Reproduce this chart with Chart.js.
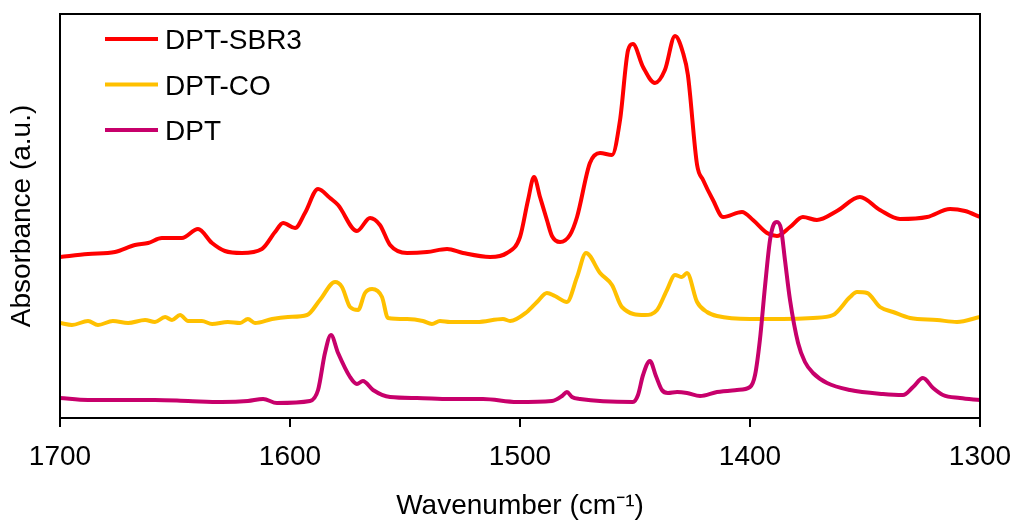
<!DOCTYPE html>
<html>
<head>
<meta charset="utf-8">
<title>FTIR spectra</title>
<script src="https://cdn.jsdelivr.net/npm/chart.js@4"></script>
<style>
  body { margin: 0; background: #fff; }
  #wrap { width: 1016px; height: 524px; }
</style>
</head>
<body>
<div id="wrap"><canvas id="ftirChart"></canvas></div>
<script>
// wavenumbers (cm-1) and absorbance (a.u., stacked with offsets) for each sample
const sbr3Wn = [1700, 1687.8, 1676.1, 1667.4, 1661.7, 1655.7, 1647, 1640, 1633.9, 1628.3, 1620.9, 1612.2, 1606.5, 1603, 1597.8, 1593.5, 1587.8, 1582.6, 1579.1, 1570.9, 1565.2, 1560.9, 1556.5, 1549.1, 1540.4, 1531.7, 1524.8, 1513, 1505.7, 1500, 1496.5, 1493.9, 1491.3, 1488.3, 1486.1, 1482.6, 1478.3, 1475.2, 1469.6, 1465.2, 1460, 1456.5, 1453, 1450.9, 1446.5, 1441.3, 1437, 1432.6, 1429.1, 1427, 1423, 1420.4, 1416.1, 1411.7, 1403.5, 1398.7, 1392.6, 1388.3, 1382.6, 1377, 1370.9, 1362.2, 1352.2, 1343.5, 1334.8, 1323, 1313, 1306.5, 1300];
const sbr3Abs = [1.61, 1.64, 1.66, 1.73, 1.75, 1.80, 1.80, 1.89, 1.75, 1.67, 1.65, 1.69, 1.86, 1.95, 1.90, 2.05, 2.29, 2.20, 2.13, 1.87, 2.00, 1.93, 1.73, 1.65, 1.66, 1.69, 1.65, 1.61, 1.65, 1.81, 2.18, 2.41, 2.21, 1.98, 1.82, 1.76, 1.83, 2.01, 2.55, 2.65, 2.63, 2.98, 3.68, 3.74, 3.51, 3.35, 3.48, 3.82, 3.65, 3.43, 2.53, 2.38, 2.18, 2.01, 2.06, 1.98, 1.85, 1.82, 1.91, 2.01, 1.98, 2.07, 2.21, 2.08, 1.99, 2.01, 2.09, 2.07, 2.01];

const coWn = [1700, 1694.8, 1687.8, 1683.5, 1677, 1670.4, 1663, 1658.7, 1654.3, 1651.3, 1647.8, 1644.3, 1638.3, 1633.9, 1627, 1621.7, 1618.3, 1615.2, 1607.8, 1600.9, 1592.6, 1587, 1580.4, 1577.4, 1573.9, 1570.4, 1567.4, 1564.3, 1560, 1557.4, 1549.1, 1542.2, 1538.3, 1534.8, 1530.4, 1518.7, 1507.4, 1504.3, 1497, 1492.6, 1488.3, 1484.8, 1479.6, 1475.2, 1471.3, 1465.2, 1460, 1455.7, 1445.7, 1440.4, 1436.1, 1432.6, 1429.6, 1427.4, 1423, 1418.7, 1414.3, 1400, 1385.7, 1372.6, 1363.9, 1356.5, 1353.5, 1349.1, 1343.5, 1337.8, 1330.4, 1318.7, 1310, 1300];
const coAbs = [0.95, 0.93, 0.97, 0.93, 0.97, 0.95, 0.98, 0.96, 1.01, 0.98, 1.03, 0.97, 0.97, 0.94, 0.96, 0.95, 0.99, 0.95, 0.99, 1.01, 1.03, 1.18, 1.36, 1.31, 1.11, 1.08, 1.25, 1.29, 1.21, 1.00, 0.99, 0.97, 0.94, 0.97, 0.96, 0.96, 0.99, 0.97, 1.06, 1.16, 1.25, 1.22, 1.16, 1.41, 1.65, 1.45, 1.33, 1.11, 1.03, 1.08, 1.28, 1.43, 1.41, 1.45, 1.16, 1.06, 1.02, 0.99, 0.99, 1.00, 1.03, 1.21, 1.26, 1.25, 1.11, 1.06, 1.00, 0.98, 0.96, 1.01];

const dptWn = [1700, 1687.8, 1673, 1658.7, 1644.3, 1629.6, 1618.3, 1611.7, 1605.7, 1591.3, 1587.8, 1584.8, 1582.2, 1579.1, 1573.9, 1570.9, 1568.3, 1563.9, 1556.5, 1544.8, 1530.4, 1516.1, 1501.3, 1486.1, 1481.7, 1479.6, 1477.4, 1473.9, 1450.9, 1448.7, 1446.5, 1443.5, 1440.9, 1438.3, 1435.7, 1431.7, 1427.4, 1421.7, 1414.3, 1405.7, 1400, 1397.8, 1395.7, 1393.5, 1391.3, 1389.6, 1388.3, 1386.5, 1384.8, 1382.6, 1379.1, 1376.1, 1372.6, 1366.5, 1356.5, 1342.2, 1333.5, 1329.1, 1324.8, 1320.4, 1316.1, 1308.7, 1300];
const dptAbs = [0.20, 0.18, 0.18, 0.18, 0.17, 0.16, 0.17, 0.19, 0.15, 0.17, 0.28, 0.65, 0.83, 0.65, 0.41, 0.34, 0.37, 0.28, 0.21, 0.20, 0.19, 0.19, 0.16, 0.17, 0.22, 0.26, 0.21, 0.19, 0.16, 0.23, 0.43, 0.57, 0.42, 0.28, 0.25, 0.26, 0.25, 0.22, 0.26, 0.28, 0.31, 0.43, 0.78, 1.31, 1.78, 1.94, 1.96, 1.89, 1.58, 1.18, 0.75, 0.56, 0.45, 0.35, 0.28, 0.24, 0.23, 0.31, 0.40, 0.30, 0.23, 0.20, 0.18];

const xTicks = [1700, 1600, 1500, 1400, 1300];

const toPoints = (xs, ys) => xs.map((x, i) => ({ x: x, y: ys[i] }));

const FONT = "'Liberation Sans', Arial, sans-serif";

// box around the plot area
const frame = {
  id: 'frame',
  afterDatasetsDraw(chart) {
    const a = chart.chartArea;
    const ctx = chart.ctx;
    ctx.save();
    ctx.strokeStyle = '#000';
    ctx.lineWidth = 2;
    ctx.strokeRect(a.left, a.top, a.right - a.left, a.bottom - a.top);
    ctx.restore();
  }
};

// legend drawn inside the plot, top left
const insideLegend = {
  id: 'insideLegend',
  afterDraw(chart) {
    const a = chart.chartArea;
    const ctx = chart.ctx;
    ctx.save();
    ctx.font = '28px ' + FONT;
    ctx.fillStyle = '#000';
    ctx.textBaseline = 'alphabetic';
    chart.data.datasets.forEach((ds, i) => {
      const y = a.top + 25 + i * 45.5;
      ctx.strokeStyle = ds.borderColor;
      ctx.lineWidth = 4;
      ctx.beginPath();
      ctx.moveTo(a.left + 45, y);
      ctx.lineTo(a.left + 98, y);
      ctx.stroke();
      ctx.fillText(ds.label, a.left + 105, y + 10);
    });
    ctx.restore();
  }
};

const ctx = document.getElementById('ftirChart').getContext('2d');
const ftirChart = new Chart(ctx, {
  type: 'line',
  data: {
    datasets: [
      { label: 'DPT-SBR3', data: toPoints(sbr3Wn, sbr3Abs), borderColor: '#FF0000', order: 2 },
      { label: 'DPT-CO', data: toPoints(coWn, coAbs), borderColor: '#FFC000', order: 1 },
      { label: 'DPT', data: toPoints(dptWn, dptAbs), borderColor: '#C7006B', order: 0 }
    ]
  },
  options: {
    responsive: true,
    maintainAspectRatio: false,
    animation: false,
    layout: { padding: { top: 14, right: 36, left: 0, bottom: 0 } },
    elements: {
      point: { radius: 0 },
      line: { borderWidth: 4, cubicInterpolationMode: 'monotone', fill: false }
    },
    plugins: {
      legend: { display: false },
      tooltip: { enabled: false }
    },
    scales: {
      x: {
        type: 'linear',
        reverse: true,
        min: 1300,
        max: 1700,
        afterBuildTicks: (axis) => { axis.ticks = xTicks.map(v => ({ value: v })); },
        afterFit: (axis) => {
          axis.height = 106;
          axis.paddingLeft = 0;
          axis.paddingRight = 0;
        },
        border: { display: false },
        grid: { drawOnChartArea: false, drawTicks: true, tickLength: 9, color: '#000', lineWidth: 2 },
        ticks: {
          color: '#000',
          padding: 13,
          maxRotation: 0,
          font: { family: FONT, size: 28 },
          callback: (v) => String(v)
        },
        title: {
          display: true,
          text: 'Wavenumber (cm\u207B\u00B9)',
          color: '#000',
          font: { family: FONT, size: 28 },
          padding: { top: 0, bottom: 1 }
        }
      },
      y: {
        min: 0,
        max: 4.04,
        afterFit: (axis) => { axis.width = 60; },
        border: { display: false },
        grid: { display: false },
        ticks: { display: false },
        title: {
          display: true,
          text: 'Absorbance (a.u.)',
          color: '#000',
          font: { family: FONT, size: 28 },
          padding: { top: 5, bottom: 0 }
        }
      }
    }
  },
  plugins: [frame, insideLegend]
});
</script>
</body>
</html>
